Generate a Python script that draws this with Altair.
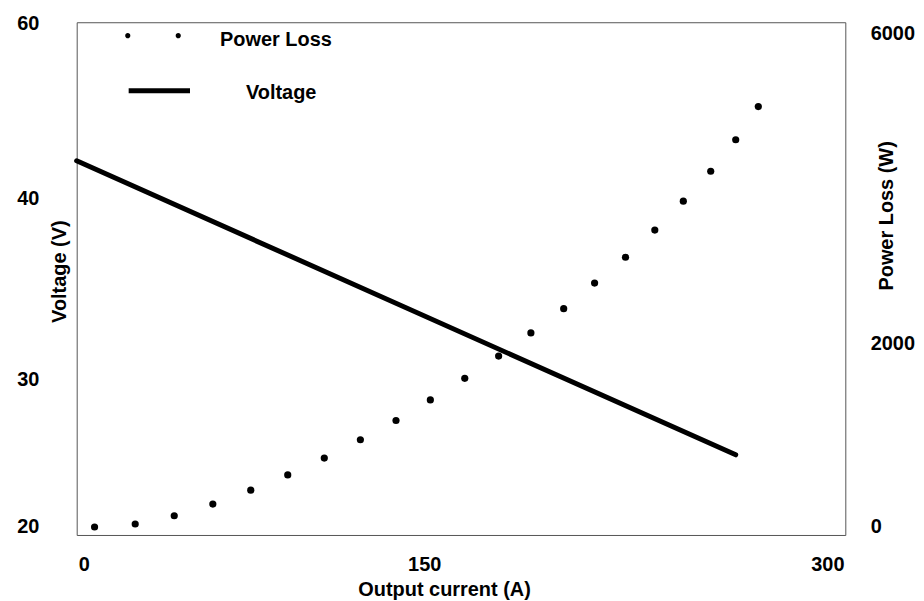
import altair as alt
import pandas as pd

FONT = "Liberation Sans"

# ---- data ----
current_pl = [4.8, 22.7, 39.9, 56.9, 73.6, 89.9, 106.0, 121.9, 137.6, 152.3, 165.1,
              177.7, 189.7, 201.9, 213.4, 224.9, 235.8, 246.4, 256.6, 265.9, 274.3]
power_loss = [0, 33, 123, 250, 402, 569, 753, 953, 1163, 1388, 1623,
              1866, 2141, 2453, 2782, 3115, 3465, 3837, 4222, 4628, 5055]
current_v = [-3.1, 265.9]
voltage = [44.3, 24.9]

x_ticks = [0, 150, 300]
v_ticks = [20, 30, 40, 60]
p_ticks = [0, 2000, 6000]
series_names = ["Power Loss", "Voltage"]

pl_df = pd.DataFrame({"current": current_pl, "power": power_loss, "series": series_names[0]})
v_df = pd.DataFrame({"current": current_v, "voltage": voltage, "series": series_names[1]})

W, H = 772, 515

x_scale = alt.Scale(domain=x_ticks, range=[7, 349, 754], nice=False, zero=False)
v_scale = alt.Scale(domain=v_ticks, range=[507, 359, 177, 1], nice=False, zero=False)
p_scale = alt.Scale(domain=p_ticks, range=[507, 323, 11], nice=False, zero=False)


def circle(cx, cy, r):
    return (f"M{cx - r},{cy} A{r},{r} 0 1 0 {cx + r},{cy} "
            f"A{r},{r} 0 1 0 {cx - r},{cy} Z")


dots_path = circle(-2.77, -0.45, 0.26) + " " + circle(2.30, -0.45, 0.26)
line_path = "M-2.93,-0.27 L3.23,-0.27"

legend_common = dict(orient="none", legendX=69, padding=0, symbolSize=400,
                     labelFont=FONT, labelFontSize=20, labelFontWeight="bold",
                     labelColor="black", symbolOpacity=1)

pl_legend = alt.Legend(legendY=8, labelOffset=55, symbolType=dots_path,
                       symbolStrokeWidth=0, symbolFillColor="black", **legend_common)
v_legend = alt.Legend(legendY=59, labelOffset=76, symbolType=line_path,
                      symbolStrokeWidth=5, symbolStrokeColor="black", **legend_common)

common_axis = dict(ticks=False, domain=False, grid=False, labelFont=FONT, labelFontSize=20,
                   labelFontWeight="bold", labelColor="black", titleFont=FONT,
                   titleFontSize=20, titleFontWeight="bold", titleColor="black",
                   labelOverlap=False, labelFlush=False, labelBound=False, format="d")

x_axis = alt.Axis(values=x_ticks, title="Output current (A)", labelPadding=20,
                  titleX=369, titleY=61, titleAlign="center", titleBaseline="alphabetic",
                  **common_axis)
v_axis = alt.Axis(values=v_ticks, orient="left", title="Voltage (V)", labelPadding=38,
                  labelAlign="right", labelBaseline="middle", titleAngle=270,
                  titleX=-17, titleY=250, titleAlign="center", titleBaseline="middle",
                  **common_axis)
p_axis = alt.Axis(values=p_ticks, orient="right", title="Power Loss (W)", labelPadding=25,
                  labelAlign="left", labelBaseline="middle", titleAngle=270,
                  titleX=41, titleY=194, titleAlign="center", titleBaseline="middle",
                  **common_axis)

line = alt.Chart(v_df).mark_line(strokeWidth=5, strokeCap="round").encode(
    x=alt.X("current:Q", scale=x_scale, axis=x_axis),
    y=alt.Y("voltage:Q", scale=v_scale, axis=v_axis),
    color=alt.Color("series:N", scale=alt.Scale(domain=[series_names[1]], range=["black"]),
                    legend=v_legend, title=None),
)

points = alt.Chart(pl_df).mark_point(filled=True, size=52, opacity=1).encode(
    x=alt.X("current:Q", scale=x_scale, axis=x_axis),
    y=alt.Y("power:Q", scale=p_scale, axis=p_axis),
    color=alt.Color("series:N", scale=alt.Scale(domain=[series_names[0]], range=["black"]),
                    legend=pl_legend, title=None),
)

chart = alt.layer(line, points).resolve_scale(y="independent", color="independent").properties(
    width=W, height=H,
    autosize=alt.AutoSizeParams(type="none"),
    padding={"left": 69, "top": 13, "right": 71, "bottom": 65},
    background="white",
).configure_view(stroke="#555", strokeWidth=1)

chart.save("out.html", embed_options={"renderer": "svg", "actions": False})
